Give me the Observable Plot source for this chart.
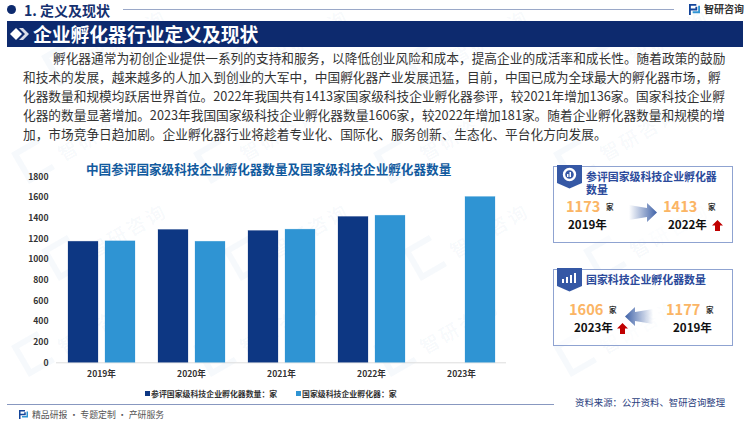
<!DOCTYPE html>
<html lang="zh"><head><meta charset="utf-8">
<script src="https://cdn.jsdelivr.net/npm/d3@7"></script>
<script src="https://cdn.jsdelivr.net/npm/@observablehq/plot@0.6"></script>
<style>
html,body{margin:0;padding:0;background:#fff}
#page{position:relative;width:750px;height:421px;overflow:hidden;font-family:"Noto Sans CJK SC","Noto Sans",sans-serif;background:#fff}
.t{position:absolute;white-space:nowrap;line-height:1;transform:translateY(-50%)}
.b{position:absolute}
.wm{position:absolute;white-space:nowrap;color:rgba(40,100,180,.055);font-size:19px;letter-spacing:3px;font-weight:500;transform:rotate(-30deg)}
.wl{position:absolute;width:24px;height:24px;border:6px solid rgba(40,110,190,.045);border-right:none;transform:rotate(-30deg)}
.body{position:absolute;left:23px;width:700px;color:#333;font-size:12.7px;white-space:nowrap;line-height:19px;height:19px}
svg text{font-family:"Noto Sans CJK SC","Noto Sans",sans-serif}
</style></head><body><div id="page"></div>
<script>
const years = ["2019年","2020年","2021年","2022年","2023年"];
const seriesNames = ["参评国家级科技企业孵化器数量：家","国家级科技企业孵化器：家"];
const evaluated = [1173,1287,1277,1413,null];
const national = [1177,1173,1290,1425,1606];
const seriesColors = ["#0d3783","#2f94d3"];
const yTicks = [0,200,400,600,800,1000,1200,1400,1600,1800];
const paragraph = [
 "孵化器通常为初创企业提供一系列的支持和服务，以降低创业风险和成本，提高企业的成活率和成长性。随着政策的鼓励",
 "和技术的发展，越来越多的人加入到创业的大军中，中国孵化器产业发展迅猛，目前，中国已成为全球最大的孵化器市场，孵",
 "化器数量和规模均跃居世界首位。2022年我国共有1413家国家级科技企业孵化器参评，较2021年增加136家。国家科技企业孵",
 "化器的数量显著增加。2023年我国国家级科技企业孵化器数量1606家，较2022年增加181家。随着企业孵化器数量和规模的增",
 "加，市场竞争日趋加剧。企业孵化器行业将趁着专业化、国际化、服务创新、生态化、平台化方向发展。"
];

const page = document.getElementById("page");
function text(s,x,y,size,color,weight,extra){
  const d=document.createElement("div");d.className="t";d.textContent=s;
  d.style.cssText=`left:${x}px;top:${y}px;font-size:${size}px;color:${color};font-weight:${weight||400};${extra||""}`;
  page.appendChild(d);return d;
}
function box(x,y,w,h,css){
  const d=document.createElement("div");d.className="b";
  d.style.cssText=`left:${x}px;top:${y}px;width:${w}px;height:${h}px;${css||""}`;
  page.appendChild(d);return d;
}
function raw(html){const w=document.createElement("div");w.innerHTML=html;const e=w.firstElementChild;page.appendChild(e);return e;}
function logo(x,y,s,c1,c2){
  raw(`<svg style="position:absolute;left:${x}px;top:${y}px" width="${s}" height="${s}" viewBox="0 0 12 12"><path d="M0 0h8v2H2v3h5V3h2v4H2v5H0z" fill="${c1}"/><path d="M10 2h2v8H4V8h6z" fill="${c2}"/></svg>`);
}

// watermarks
const wmX=[48,230,410,590], wmY=[28,125,222,318];
wmY.forEach((y,r)=>wmX.forEach((x,c)=>{
  const o=(r%2)*-30;
  const d=document.createElement("div");d.className="wm";d.textContent="智研咨询";
  d.style.left=(x+o+35)+"px";d.style.top=(y-6)+"px";page.appendChild(d);
  const l=document.createElement("div");l.className="wl";
  l.style.left=(x+o)+"px";l.style.top=(y+18)+"px";page.appendChild(l);
}));

// header
box(7,5,10,10,"background:#0d2a6e;border-radius:50%;width:9px;height:9px");
text("1. 定义及现状",24,10,14,"#15306f",700);
box(123,8.5,551,1.2,"background:#9aa8c8");
logo(689,4,11,"#14459a","#2f94d3");
text("智研咨询",704,9,10,"#333",700);
box(7,21,736,26,"background:#0d2a6e");
raw(`<svg style="position:absolute;left:10px;top:28px" width="19" height="12" viewBox="0 0 19 12"><path d="M0 6L6 0L12 6L6 12Z" fill="#fff"/><path d="M9 0h4l6 6l-6 6H9l6-6z" fill="#d8dde8"/></svg>`);
text("企业孵化器行业定义及现状",33,34,18.8,"#fff",700);

// body
paragraph.forEach((s,i)=>{
  const d=document.createElement("div");d.className="body";d.textContent=s;
  d.style.top=(47.5+19*i)+"px";
  if(i===0) d.style.left="53px";
  page.appendChild(d);
});

// chart
const rows=years.flatMap((y,i)=>[
  {year:y,series:seriesNames[0],value:evaluated[i]},
  {year:y,series:seriesNames[1],value:national[i]}
]);
const chart=Plot.plot({
  width:560,height:230,marginLeft:56,marginRight:54,marginTop:16.5,marginBottom:27.7,
  style:{background:"transparent",fontFamily:'"Noto Sans CJK SC","Noto Sans",sans-serif',overflow:"visible"},
  fx:{domain:years,padding:0,label:null,axis:"bottom",tickSize:0,tickPadding:8},
  x:{domain:seriesNames,axis:null,paddingInner:0.2,paddingOuter:0.3},
  y:{domain:[0,1800],ticks:yTicks,tickFormat:d3.format("d"),label:null,tickSize:0,tickPadding:8},
  color:{domain:seriesNames,range:seriesColors},
  marks:[
    Plot.ruleY([0],{stroke:"#ddd",strokeWidth:1}),
    Plot.barY(rows,{fx:"year",x:"series",y:"value",fill:"series",stroke:"series",strokeOpacity:0.35,strokeWidth:0.6})
  ]
});
chart.style.position="absolute";chart.style.left="0";chart.style.top="160px";
chart.querySelectorAll("g[aria-label='y-axis tick label'], g[aria-label='fx-axis tick label']").forEach(g=>{g.setAttribute("font-size","8.6");g.setAttribute("font-weight","700");g.setAttribute("fill","#333")});
page.appendChild(chart);

text("中国参评国家级科技企业孵化器数量及国家级科技企业孵化器数量",86,169,12.6,"#115a9e",700);

// legend
box(145,391,5,5,`background:${seriesColors[0]}`);
text(seriesNames[0],151,394,7.9,"#333",700);
box(296,391,5,5,`background:${seriesColors[1]}`);
text(seriesNames[1],302,394,7.9,"#333",700);

// footer
box(7,403.5,547,1.2,"background:#8898c0");
logo(19,410,9,"#14459a","#2f94d3");
text("精品研报 · 专题定制 · 产研服务",32,415,8.9,"#555");
text("资料来源：公开资料、智研咨询整理",575,403,9.4,"#2a4080");

// panels
function ribbon(y,inner){
  raw(`<svg style="position:absolute;left:557px;top:${y}px" width="25" height="24" viewBox="0 0 25 24"><path d="M0 0H25V18L12.5 23.5L0 18Z" fill="#3558a5"/>${inner}</svg>`);
}
box(553,165.5,178,75,"border:1px solid #8fa3d1;background:rgba(255,255,255,.5)");
ribbon(165,`<circle cx="12.5" cy="9.5" r="5.5" fill="none" stroke="#fff" stroke-width="2.4"/><rect x="10" y="9" width="1.5" height="3" fill="#fff"/><rect x="12.5" y="7" width="1.5" height="5" fill="#fff"/>`);
text("参评国家级科技企业孵化器数量",586,182.5,10.9,"#2b4a9b",700,"white-space:normal;width:134px;line-height:13.5px");
box(553,268.5,178,75,"border:1px solid #8fa3d1;background:rgba(255,255,255,.5)");
ribbon(268,`<path d="M5 15V11h2v4zM9 15V9h2v6zM13 15V7h2v8zM17 15V5h2v10z" fill="#fff"/>`);
text("国家科技企业孵化器数量",586,279,10.9,"#2b4a9b",700);

const cards=[
 ["1173",566,206,"家",606,"2019年",568,225],
 ["1413",663,206,"家",708,"2022年",668,225],
 ["1606",569,309,"家",609,"2023年",574,328],
 ["1177",666,309,"家",706,"2019年",673,328]
];
cards.forEach(c=>{
  text(c[0],c[1],c[2],14.6,"#fbb565",700);
  text(c[3],c[4],c[2]+1,7.5,"#333",700);
  text(c[5],c[6],c[7],11.6,"#111",700);
});
function up(x,y){raw(`<svg style="position:absolute;left:${x}px;top:${y}px" width="11" height="11" viewBox="0 0 11 11"><path d="M5.5 0L11 5.5H8V11H3V5.5H0Z" fill="#c00000"/></svg>`);}
up(712,220);up(617,323);
raw(`<svg style="position:absolute;left:629px;top:203px" width="28" height="19" viewBox="0 0 28 19"><defs><linearGradient id="a1"><stop offset="0" stop-color="#3f62a8" stop-opacity="0"/><stop offset="1" stop-color="#3f62a8"/></linearGradient></defs><path d="M0 2L18 5V0L28 9.5L18 19V14L0 17Z" fill="url(#a1)"/></svg>`);
raw(`<svg style="position:absolute;left:625px;top:307px" width="28" height="19" viewBox="0 0 28 19"><defs><linearGradient id="a2" x1="1" x2="0"><stop offset="0" stop-color="#3f62a8" stop-opacity="0"/><stop offset="1" stop-color="#3f62a8"/></linearGradient></defs><path d="M28 2L10 5V0L0 9.5L10 19V14L28 17Z" fill="url(#a2)"/></svg>`);
</script></body></html>
